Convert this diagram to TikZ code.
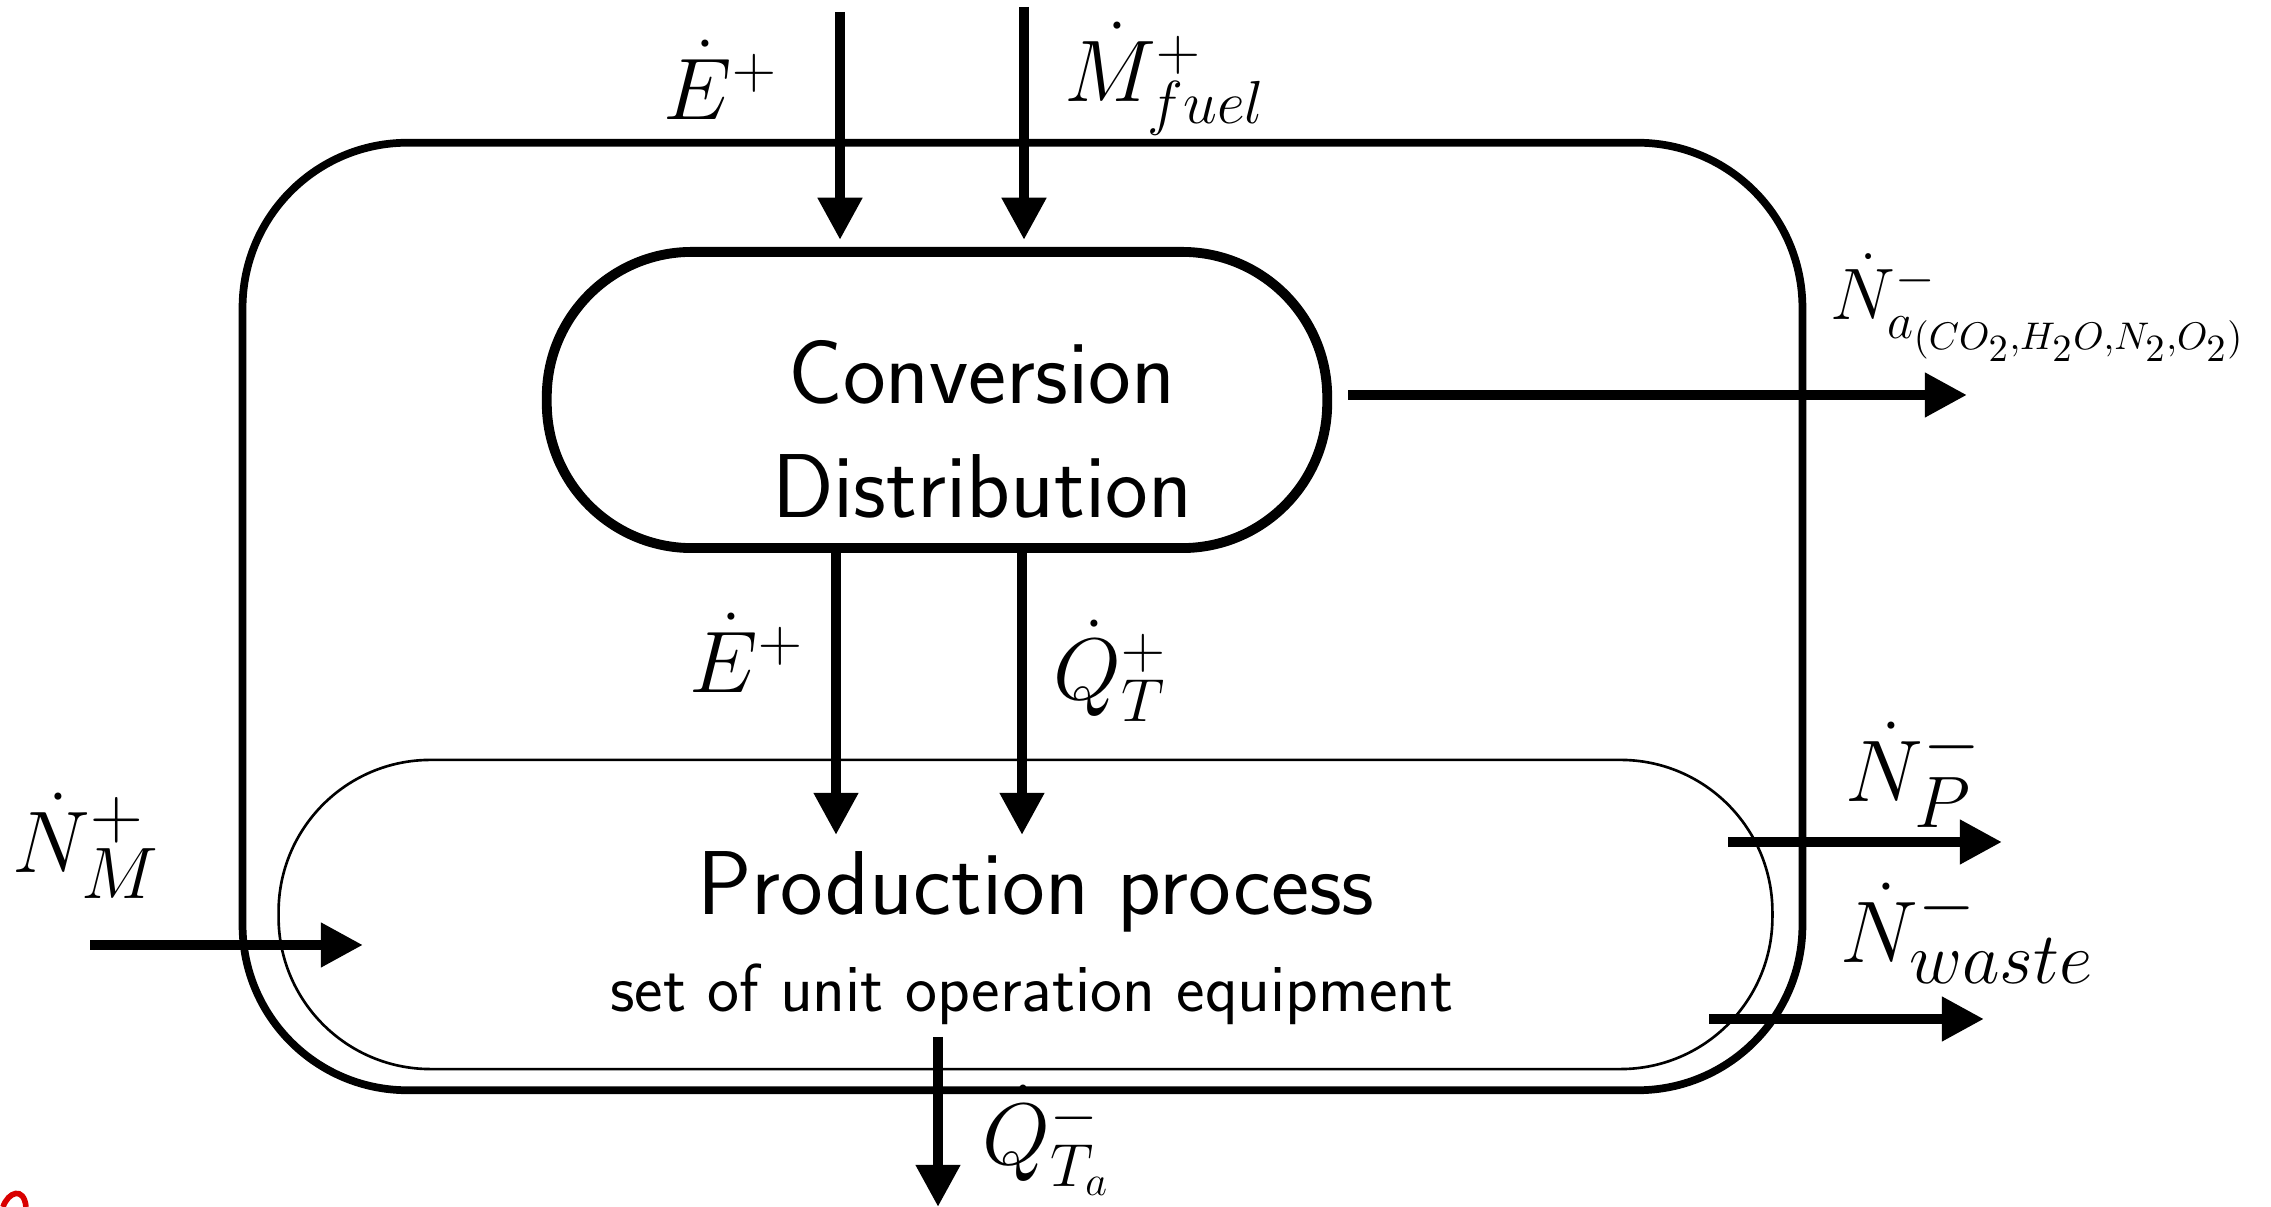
\documentclass[tikz,border=0pt]{standalone}
\usetikzlibrary{arrows.meta,calc}
\begin{document}
\begin{tikzpicture}[x=0.01cm,y=-0.01cm,
  arr/.style={line width=2.9pt, -{Triangle[length=12pt,width=12pt]}},
  lbl/.style={inner sep=0pt, anchor=base west, font=\fontsize{26.5}{30}\selectfont},
  lblS/.style={lbl, font=\fontsize{25}{30}\selectfont},
  lblN/.style={lbl, font=\fontsize{30}{33}\selectfont},
  box/.style={draw, inner sep=0pt, rectangle},
  txt/.style={inner sep=0pt, anchor=base, font=\sffamily\fontsize{25.8}{30}\selectfont},
  stxt/.style={txt, font=\sffamily\fontsize{19.3}{22}\selectfont}]
\useasboundingbox (0,0) rectangle (2271,1207);
% boxes
\node[box, line width=2.2pt, rounded corners=1.65cm, minimum width=15.59cm, minimum height=9.47cm] (sys) at (1022.5,616.5) {};
\node[box, line width=0.75pt, rounded corners=1.52cm, minimum width=14.93cm, minimum height=3.09cm] (prod) at (1025.5,914.5) {};
\node[box, line width=2.8pt, rounded corners=1.45cm, minimum width=7.80cm, minimum height=2.96cm] (conv) at (937,400) {};
% texts
\node[txt] (convA) at (982,404) {Conversion};
\node[txt] (convB) at (982,518) {Distribution};
\node[txt] (prodA) at (1036,915) {Production process};
\node[stxt] (prodB) at (1032,1012) {set of unit operation equipment};
% coordinates
\coordinate (eIn) at (840,12);
\coordinate (mIn) at (1024,7);
\coordinate (naOut) at (1967,395);
\coordinate (eMid) at (836,835);
\coordinate (qMid) at (1022,835);
\coordinate (nmIn) at (90,945);
\coordinate (nmTip) at (363,945);
\coordinate (npIn) at (1728,842);
\coordinate (npOut) at (2002,842);
\coordinate (nwIn) at (1709,1019);
\coordinate (nwOut) at (1984,1019);
\coordinate (qaIn) at (938,1037);
\coordinate (qaOut) at (938,1207);
% arrows
\draw[arr, shorten >=2pt] (eIn) -- (eIn |- conv.north);
\draw[arr, shorten >=2pt] (mIn) -- (mIn |- conv.north);
\draw[arr] ($(conv.east |- naOut)+(16,0)$) -- (naOut);
\draw[arr] (conv.south -| eMid) -- (eMid);
\draw[arr] (conv.south -| qMid) -- (qMid);
\draw[arr] (nmIn) -- (nmTip);
\draw[arr] (npIn) -- (npOut);
\draw[arr] (nwIn) -- (nwOut);
\draw[arr] (qaIn) -- (qaOut);
% labels
\node[lbl] (lE1) at (663,120) {$\dot{E}^{+}$};
\node[lblS] (lM) at (1064,102) {$\dot{M}^{+}_{fuel}$};
\node[lbl, font=\fontsize{21}{26}\selectfont] (lNa) at (1830,320) {$\dot{N}^{-}_{a_{(CO_2,H_2O,N_2,O_2)}}$};
\node[lbl] (lE2) at (689,693) {$\dot{E}^{+}$};
\node[lbl] (lQ) at (1053,700) {$\dot{Q}^{+}_{T}$};
\node[lblN] (lNM) at (12,873) {$\dot{N}^{+}_{M}$};
\node[lblN] (lNP) at (1845,802) {$\dot{N}^{-}_{P}$};
\node[lblN] (lNw) at (1840,963) {$\dot{N}^{-}_{waste}$};
\node[lblS] (lQa) at (982,1165) {$\dot{Q}^{-}_{T_a}$};
% red mark (cropped logo fragment)
\draw[red!85!black, line width=1.6pt] (3,1207) .. controls (8,1192) and (24,1186) .. (26,1207);
\end{tikzpicture}
\end{document}
